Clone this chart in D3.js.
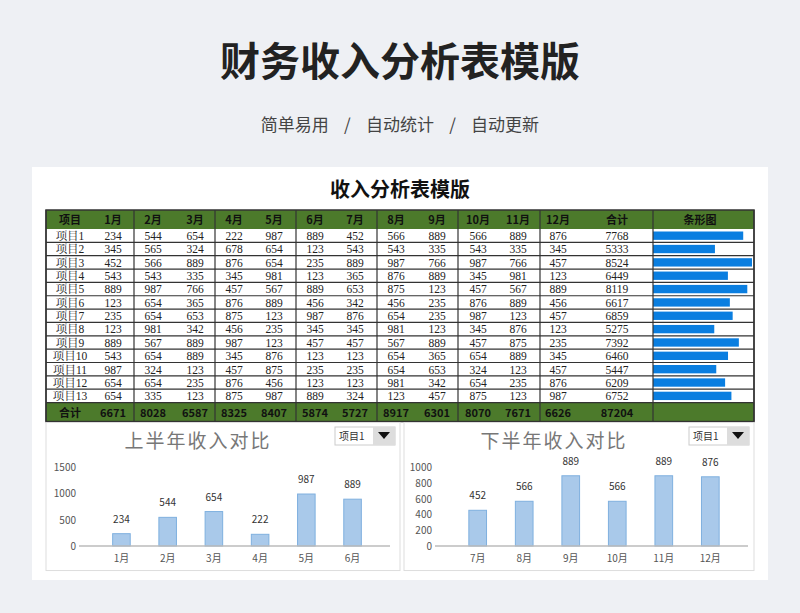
<!DOCTYPE html>
<html><head><meta charset="utf-8">
<script src="https://cdn.jsdelivr.net/npm/d3@7"></script>
<style>body{margin:0;background:#eef0f4;}svg{display:block;font-family:"Noto Sans CJK SC","Noto Sans",sans-serif;}</style>
</head><body><svg id="c" width="800" height="613"></svg>
<script>
const months=["1月","2月","3月","4月","5月","6月","7月","8月","9月","10月","11月","12月"];
const items=["项目1","项目2","项目3","项目4","项目5","项目6","项目7","项目8","项目9","项目10","项目11","项目12","项目13"];
const values=[
[234,544,654,222,987,889,452,566,889,566,889,876],
[345,565,324,678,654,123,543,543,335,543,335,345],
[452,566,889,876,654,235,889,987,766,987,766,457],
[543,543,335,345,981,123,365,876,889,345,981,123],
[889,987,766,457,567,889,653,875,123,457,567,889],
[123,654,365,876,889,456,342,456,235,876,889,456],
[235,654,653,875,123,987,876,654,235,987,123,457],
[123,981,342,456,235,345,345,981,123,345,876,123],
[889,567,889,987,123,457,457,567,889,457,875,235],
[543,654,889,345,876,123,123,654,365,654,889,345],
[987,324,123,457,875,235,235,654,653,324,123,457],
[654,654,235,876,456,123,123,981,342,654,235,876],
[654,335,123,875,987,889,324,123,457,875,123,987]];
const rowTotals=[7768,5333,8524,6449,8119,6617,6859,5275,7392,6460,5447,6209,6752];
const colTotals=[6671,8028,6587,8325,8407,5874,5727,8917,6301,8070,7671,6626];
const grandTotal=87204;
const firstHalf=[234,544,654,222,987,889];
const secondHalf=[452,566,889,566,889,876];
const yTicks1=[0,500,1000,1500];
const yTicks2=[0,200,400,600,800,1000];

const svg=d3.select("#c");
svg.append("text").attr("x",400).attr("y",76).attr("text-anchor","middle").attr("font-size",40).attr("font-weight",700).attr("fill","#222").text("财务收入分析表模版");
svg.append("text").attr("x",400).attr("y",131).attr("text-anchor","middle").attr("font-size",17).attr("fill","#444").attr("xml:space","preserve").text("简单易用    /    自动统计    /    自动更新");
svg.append("rect").attr("x",32).attr("y",167).attr("width",736).attr("height",413).attr("fill","#fff");
svg.append("text").attr("x",400).attr("y",197).attr("text-anchor","middle").attr("font-size",20).attr("font-weight",700).attr("fill","#111").text("收入分析表模版");

// table
const serif='"Liberation Serif","Noto Serif CJK SC","Noto Sans CJK SC",serif';
const cx=[70,113,153,195,234,274,315,355,396,437,478,518,558,617,700];
const groupLines=[46,93,134,215,296,377,458,540,653,754];
const y0=210,hh=19,rh=13.35,nR=items.length;
const yTot=y0+hh+nR*rh, th=19;
const green="#4c7a2b";
svg.append("rect").attr("x",46).attr("y",y0).attr("width",708).attr("height",hh).attr("fill",green);
svg.append("rect").attr("x",46).attr("y",yTot).attr("width",708).attr("height",th).attr("fill",green);
const header=["项目",...months,"合计","条形图"];
svg.selectAll(".h").data(header).join("text").attr("x",(d,i)=>cx[i]).attr("y",y0+14).attr("text-anchor","middle").attr("font-size",11).attr("font-weight",700).attr("fill","#111").text(d=>d);
const bx=d3.scaleLinear().domain([0,d3.max(rowTotals)]).range([0,99]);
items.forEach((it,r)=>{
  const y=y0+hh+r*rh;
  const row=[it,...values[r],rowTotals[r]];
  svg.selectAll(".r"+r).data(row).join("text").attr("x",(d,i)=>cx[i]).attr("y",y+11).attr("text-anchor","middle").attr("font-size",11.5).attr("font-family",serif).attr("fill","#222").text(d=>d);
  svg.append("rect").attr("x",653).attr("y",y+2.5).attr("width",bx(rowTotals[r])).attr("height",rh-5).attr("fill","#0a7ee0");
  svg.append("line").attr("x1",46).attr("x2",754).attr("y1",y+rh).attr("y2",y+rh).attr("stroke","#333").attr("stroke-width",1.2);
});
const trow=["合计",...colTotals,grandTotal];
svg.selectAll(".t").data(trow).join("text").attr("x",(d,i)=>cx[i]).attr("y",yTot+14).attr("text-anchor","middle").attr("font-size",11).attr("font-weight",700).attr("fill","#111").text(d=>d);
groupLines.forEach((x,i)=>{ if(i==1)return; svg.append("line").attr("x1",x).attr("x2",x).attr("y1",y0).attr("y2",yTot+th).attr("stroke","#333").attr("stroke-width",1.2);});
svg.append("rect").attr("x",46).attr("y",y0).attr("width",708).attr("height",yTot+th-y0).attr("fill","none").attr("stroke","#333").attr("stroke-width",1.5);

// charts
function chart(x0,x1,title,labels,data,ticks,max,axisX,plotL,plotR){
  const g=svg.append("g");
  g.append("rect").attr("x",x0).attr("y",yTot+th+1).attr("width",x1-x0).attr("height",148).attr("fill","#fff").attr("stroke","#ddd");
  g.append("text").attr("x",(x0+x1)/2-25).attr("y",448).attr("text-anchor","middle").attr("font-size",19).attr("fill","#777").attr("letter-spacing",2).text(title);
  g.append("rect").attr("x",x1-65).attr("y",427).attr("width",60).attr("height",18).attr("fill","#fff").attr("stroke","#ccc");
  g.append("rect").attr("x",x1-27).attr("y",427).attr("width",22).attr("height",18).attr("fill","#ddd");
  g.append("text").attr("x",x1-61).attr("y",440).attr("font-size",10).attr("fill","#333").text("项目1");
  g.append("path").attr("d",`M${x1-22},432 l12,0 l-6,7z`).attr("fill","#111");
  const y=d3.scaleLinear().domain([0,max]).range([546,467]);
  const x=d3.scaleBand().domain(labels).range([plotL,plotR]).padding(0.62);
  ticks.forEach(t=>g.append("text").attr("x",axisX).attr("y",y(t)+4).attr("text-anchor","end").attr("font-size",10).attr("fill","#555").text(t));
  g.selectAll(".b").data(data).join("rect").attr("x",(d,i)=>x(labels[i])).attr("y",d=>y(d)).attr("width",x.bandwidth()).attr("height",d=>546-y(d)).attr("fill","#a9c9ea").attr("stroke","#7fb0df");
  g.selectAll(".v").data(data).join("text").attr("x",(d,i)=>x(labels[i])+x.bandwidth()/2).attr("y",d=>y(d)-11).attr("text-anchor","middle").attr("font-size",10).attr("fill","#333").text(d=>d);
  g.append("line").attr("x1",plotL-5).attr("x2",plotR).attr("y1",546).attr("y2",546).attr("stroke","#bbb").attr("stroke-width",1.5);
  g.selectAll(".m").data(labels).join("text").attr("x",d=>x(d)+x.bandwidth()/2).attr("y",562).attr("text-anchor","middle").attr("font-size",10).attr("fill","#555").text(d=>d);
}
chart(46,400,"上半年收入对比",months.slice(0,6),firstHalf,yTicks1,1500,76,84,390);
chart(404,754,"下半年收入对比",months.slice(6),secondHalf,yTicks2,1000,432,440,748);
</script></body></html>
